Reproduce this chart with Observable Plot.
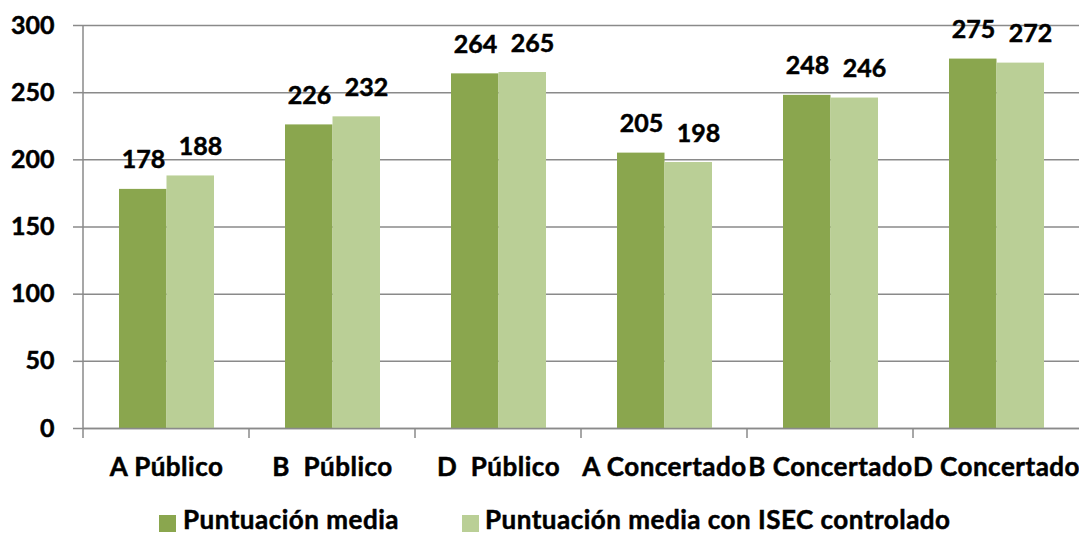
<!DOCTYPE html>
<html><head><meta charset="utf-8">
<script src="https://cdn.jsdelivr.net/npm/d3@7"></script>
<script src="https://cdn.jsdelivr.net/npm/@observablehq/plot@0.6"></script>
<style>
body{margin:0;background:#fff;font-family:Lato,sans-serif;font-weight:bold;}
#chart svg{display:block}
#chart svg text{stroke:#000;stroke-width:0.5px;}
#chart svg [aria-label="x-axis tick label"] text{letter-spacing:0.5px;}
#legend{position:relative;height:25px;width:1079px;font-size:26px;line-height:20px;color:#000;letter-spacing:0.5px;-webkit-text-stroke:0.5px #000;}
#legend .sw{position:absolute;top:5px;width:17px;height:17px;}
#legend .lb{position:absolute;top:-1px;white-space:nowrap;}
</style></head><body><div id="chart"></div><div id="legend"></div>
<script>
const categories = ["A Público", "B  Público", "D  Público", "A Concertado", "B Concertado", "D Concertado"];
const seriesNames = ["Puntuación media", "Puntuación media con ISEC controlado"];
const puntuacion = [178, 226, 264, 205, 248, 275];
const isec = [188, 232, 265, 198, 246, 272];
const yTicks = [0, 50, 100, 150, 200, 250, 300];
const colors = ["#8aa64e", "#bacf96"];
const gridColor = "#8a8a8a";

const rows1 = categories.map((c, i) => ({category: c, value: puntuacion[i]}));
const rows2 = categories.map((c, i) => ({category: c, value: isec[i]}));

const boundaryTicks = (index, scales) => {
  const g = d3.create("svg:g").attr("stroke", gridColor).attr("stroke-width", 1.5);
  const y0 = scales.y(0);
  categories.forEach((c, i) => {
    const x = scales.x(c);
    g.append("line").attr("x1", x).attr("x2", x)
      .attr("y1", i === 0 ? scales.y(yTicks[yTicks.length - 1]) : y0)
      .attr("y2", y0 + 10);
  });
  return g.node();
};

const plot = Plot.plot({
  width: 1079, height: 510,
  marginLeft: 83, marginRight: 0, marginTop: 25, marginBottom: 82,
  style: {fontFamily: "Lato, sans-serif", fontWeight: "bold", fontSize: "25px", color: "#000", background: "#fff"},
  x: {domain: categories, padding: 0, label: null},
  y: {domain: [0, 300], label: null},
  marks: [
    Plot.gridY(yTicks, {stroke: gridColor, strokeOpacity: 1, strokeWidth: 1.5}),
    Plot.axisY(yTicks, {tickSize: 10, tickPadding: 19, stroke: gridColor, strokeWidth: 1.5, label: null, fontSize: 25}),
    Plot.axisX({tickSize: 0, tickPadding: 29, label: null, fontSize: 26, tickFormat: d => d.replace(/  /g, " \u00a0")}),
    Plot.barY(rows1, {x: "category", y: "value", fill: colors[0], insetLeft: 36, insetRight: 82.5}),
    Plot.barY(rows2, {x: "category", y: "value", fill: colors[1], insetLeft: 83.5, insetRight: 35}),
    Plot.ruleY([0], {stroke: gridColor, strokeWidth: 1.5}),
    boundaryTicks,
    Plot.text(rows1, {x: "category", y: "value", text: d => String(d.value), dx: -23, dy: -29, fontSize: 25, fontWeight: "bold", fill: "#000"}),
    Plot.text(rows2, {x: "category", y: "value", text: d => String(d.value), dx: 34, dy: -29, fontSize: 25, fontWeight: "bold", fill: "#000"})
  ]
});
document.getElementById("chart").append(plot);

const legend = document.getElementById("legend");
const legendPos = [[159, 183], [462, 485]];
seriesNames.forEach((name, i) => {
  const sw = document.createElement("div");
  sw.className = "sw"; sw.style.left = legendPos[i][0] + "px"; sw.style.background = colors[i];
  const lb = document.createElement("div");
  lb.className = "lb"; lb.style.left = legendPos[i][1] + "px"; lb.textContent = name;
  legend.append(sw, lb);
});
</script>
</body></html>
